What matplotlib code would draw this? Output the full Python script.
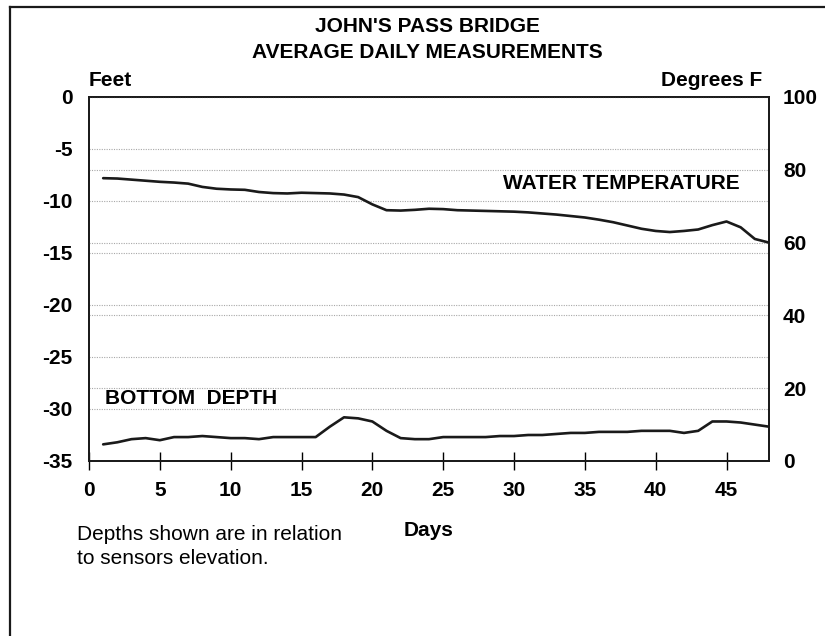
import matplotlib
matplotlib.use("Agg")
import matplotlib.pyplot as plt
from matplotlib.lines import Line2D
import numpy as np

plt.rcParams["font.family"] = ["Liberation Sans", "DejaVu Sans"]
plt.rcParams["axes.unicode_minus"] = False

# daily averages
days = np.arange(1, 49)
water_temp_f = [
    77.7, 77.6, 77.3, 77.0, 76.7, 76.5, 76.2, 75.3, 74.8, 74.6,
    74.5, 73.9, 73.6, 73.5, 73.7, 73.6, 73.5, 73.2, 72.5, 70.5,
    68.9, 68.8, 69.0, 69.3, 69.2, 68.9, 68.8, 68.7, 68.6, 68.5,
    68.3, 68.0, 67.7, 67.3, 66.9, 66.3, 65.6, 64.7, 63.8, 63.2,
    62.9, 63.2, 63.6, 64.8, 65.8, 64.2, 61.0, 60.0,
]
bottom_depth_ft = [
    -33.4, -33.2, -32.9, -32.8, -33.0, -32.7, -32.7, -32.6, -32.7, -32.8,
    -32.8, -32.9, -32.7, -32.7, -32.7, -32.7, -31.7, -30.8, -30.9, -31.2,
    -32.1, -32.8, -32.9, -32.9, -32.7, -32.7, -32.7, -32.7, -32.6, -32.6,
    -32.5, -32.5, -32.4, -32.3, -32.3, -32.2, -32.2, -32.2, -32.1, -32.1,
    -32.1, -32.3, -32.1, -31.2, -31.2, -31.3, -31.5, -31.7,
]
x_ticks = [0, 5, 10, 15, 20, 25, 30, 35, 40, 45]
feet_ticks = [0, -5, -10, -15, -20, -25, -30, -35]
degree_ticks = [0, 20, 40, 60, 80, 100]

W, H = 825, 636
fig = plt.figure(figsize=(W / 100, H / 100), dpi=100)
ax = fig.add_axes([89 / W, 1 - 461 / H, (769 - 89) / W, (461 - 97) / H])
ax2 = ax.twinx()

line_kw = dict(color="#1a1a1a", linewidth=1.9, solid_capstyle="round",
               solid_joinstyle="round")
grid_kw = dict(color="#a8a8a8", linestyle=(0, (1, 1.2)), linewidth=0.8)

ax.plot(days, bottom_depth_ft, **line_kw)
ax2.plot(days, water_temp_f, **line_kw)

ax.set_xlim(0, 48)
ax.set_ylim(-35, 0)
ax2.set_ylim(0, 100)

ax.set_xticks(x_ticks)
ax.set_yticks(feet_ticks)
ax2.set_yticks(degree_ticks)

ax.yaxis.grid(True, **grid_kw)
ax2.yaxis.grid(True, **grid_kw)
ax.set_axisbelow(True)
ax2.set_axisbelow(True)

FS = 15
lab = dict(fontsize=FS, fontweight="bold")
ax.tick_params(axis="x", direction="inout", length=13, width=1.0, pad=8,
               labelsize=FS)
ax.tick_params(axis="y", length=0, pad=12, labelsize=FS)
ax2.tick_params(axis="y", length=0, pad=10, labelsize=FS)
for t in ax.get_xticklabels() + ax.get_yticklabels() + ax2.get_yticklabels():
    t.set_fontweight("bold")

for a in (ax, ax2):
    for s in a.spines.values():
        s.set_linewidth(1.3)
        s.set_color("#1a1a1a")

ax.text(29.2, -8.3, "WATER TEMPERATURE", ha="left", va="center", **lab)
ax.text(1.1, -29.0, "BOTTOM  DEPTH", ha="left", va="center", **lab)

# titles and axis captions, in pixel positions of the figure
def ftext(x, y, s, **kw):
    fig.text(x / W, 1 - y / H, s, **kw)

ftext(427, 27, "JOHN'S PASS BRIDGE", ha="center", va="center", **lab)
ftext(427, 53, "AVERAGE DAILY MEASUREMENTS", ha="center", va="center", **lab)
ftext(89, 80, "Feet", ha="left", va="center", **lab)
ftext(762, 80, "Degrees F", ha="right", va="center", **lab)
ftext(429, 531, "Days", ha="center", va="center", **lab)
ftext(77, 535, "Depths shown are in relation", ha="left", va="center", fontsize=FS)
ftext(77, 558, "to sensors elevation.", ha="left", va="center", fontsize=FS)

# page frame (left and top edges of the scanned sheet)
fig.add_artist(Line2D([10 / W, 10 / W], [0, 1 - 7 / H], transform=fig.transFigure,
                      color="#1a1a1a", linewidth=1.6))
fig.add_artist(Line2D([10 / W, 1], [1 - 7 / H, 1 - 7 / H], transform=fig.transFigure,
                      color="#1a1a1a", linewidth=1.6))

fig.savefig("out.png", dpi=100)
